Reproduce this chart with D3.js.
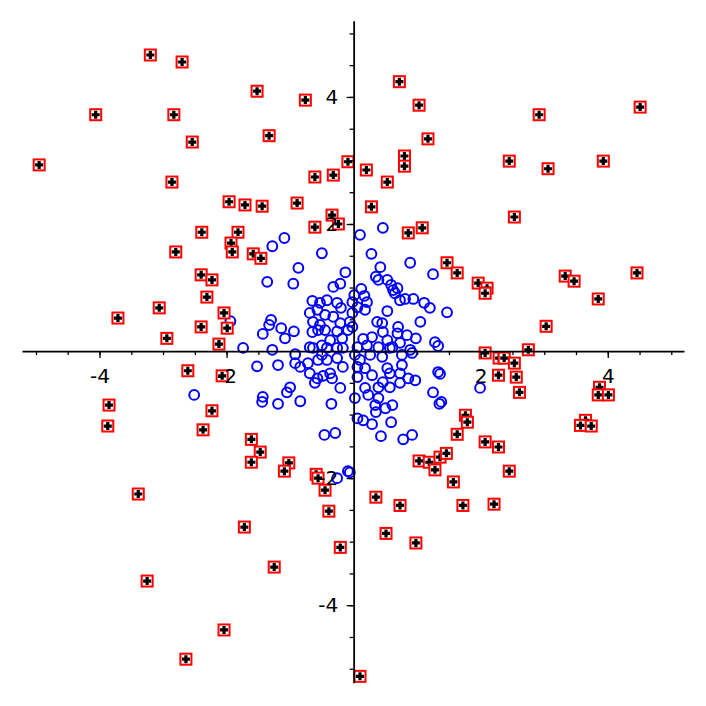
<!DOCTYPE html>
<html>
<head>
<meta charset="utf-8">
<script src="https://cdn.jsdelivr.net/npm/d3@7"></script>
<style>
  html, body { margin: 0; padding: 0; background: #ffffff; }
  svg { display: block; }
</style>
</head>
<body>
<svg id="chart" width="706" height="706"></svg>
<script>
// ---- data ----
const redX = [-3.20,-2.70,-4.06,-2.83,-1.52,-0.76,-1.33,-2.54,-4.95,-2.86,-0.61,-0.32,-0.09,0.72,1.03,1.17,0.80,0.80,0.20,0.53,
  2.92,4.51,2.45,3.06,3.93,-1.96,-1.71,-1.44,-0.89,0.28,-0.34,-0.24,-0.61,-1.82,-2.39,-1.93,-1.91,-1.58,-1.46,-2.80,
  0.86,1.08,2.53,1.47,1.63,1.96,2.10,2.07,3.33,3.47,4.46,3.85,3.03,-2.40,-2.23,-2.31,-3.06,-3.71,-2.04,-2.40,
  -1.99,-2.94,-2.12,-2.61,-2.07,-3.85,-3.87,-2.23,-2.37,-3.39,-3.25,-2.64,-2.04,-1.72,-1.25,-1.61,-1.47,-1.61,-1.02,-1.09,
  -0.59,-0.56,-0.45,-0.39,-0.21,0.10,0.35,0.73,0.51,0.98,1.03,1.19,1.36,1.46,1.28,1.57,1.63,1.76,1.79,2.07,
  2.28,2.45,2.21,1.72,2.07,2.29,2.37,2.53,2.75,2.28,2.56,2.61,3.87,3.85,4.01,3.65,3.57,3.74];
const redY = [4.66,4.55,3.72,3.72,4.09,3.95,3.39,3.29,2.93,2.66,2.74,2.77,2.98,4.24,3.87,3.34,3.07,2.91,2.85,2.66,
  3.72,3.84,2.99,2.87,2.99,2.35,2.30,2.28,2.33,2.27,2.14,2.00,1.95,1.87,1.87,1.70,1.56,1.53,1.46,1.56,
  1.86,1.94,2.11,1.39,1.23,1.07,0.99,0.91,1.18,1.10,1.23,0.82,0.39,1.20,1.12,0.85,0.68,0.52,0.60,0.38,
  0.36,0.20,0.11,-0.31,-0.39,-0.85,-1.18,-0.94,-1.24,-2.25,-3.62,-4.85,-4.39,-2.77,-3.40,-1.39,-1.59,-1.75,-1.76,-1.89,
  -1.94,-2.00,-2.19,-2.52,-3.09,-5.12,-2.30,-2.43,-2.87,-3.02,-1.73,-1.75,-1.67,-1.61,-1.87,-2.06,-1.31,-1.01,-1.12,-1.43,
  -1.51,-1.89,-2.41,-2.43,-0.03,-0.11,-0.11,-0.19,0.02,-0.38,-0.41,-0.65,-0.57,-0.69,-0.69,-1.09,-1.17,-1.18];

const blueX = [-1.09,-1.28,-0.50,-0.87,-0.13,-1.36,-0.95,0.10,-0.32,-0.21,-0.65,-0.53,-0.42,-0.26,-0.20,-0.02,0.01,-0.57,-0.45,-0.32,
  -0.69,-0.64,-0.56,-0.45,-0.21,-0.26,-0.09,-0.02,-1.94,-1.30,-1.33,-1.14,-0.94,-1.43,-1.08,-0.37,-0.18,-0.50,-0.69,-0.64,
  -0.42,-0.26,-0.17,-1.74,-1.28,0.46,0.28,0.89,0.42,1.25,0.35,0.39,0.53,0.59,0.62,0.69,0.65,0.73,0.81,0.94,
  1.11,1.20,1.47,0.12,0.17,0.21,0.06,0.18,0.53,-0.02,0.37,0.45,0.70,0.46,1.05,0.69,0.84,0.98,0.29,0.15,
  0.53,0.73,0.89,1.28,1.33,0.06,0.21,0.39,0.61,-1.52,-1.19,-0.92,-0.84,-0.72,-0.69,-0.57,-0.61,-0.48,-0.37,-0.34,
  -0.56,-0.42,-0.26,-0.17,-0.21,0.02,0.06,0.06,0.02,-1.00,-1.05,-1.43,-1.44,-1.19,-0.84,-0.35,-0.46,-0.29,-0.09,-0.26,
  0.06,-2.51,0.10,0.26,0.45,0.57,0.76,0.92,0.18,0.29,0.53,0.57,0.73,0.86,0.97,0.18,0.39,0.46,0.57,0.73,
  0.23,0.39,0.34,0.50,0.61,0.35,1.33,1.36,1.25,1.38,1.35,1.99,0.15,0.29,0.59,0.43,0.78,0.92,-0.06,0.76,
  -0.65,-0.53,-0.06,-0.92,-0.50];
const blueY = [1.78,1.65,1.54,1.31,1.24,1.09,1.06,1.83,1.01,1.06,0.79,0.76,0.80,0.76,0.68,0.77,0.88,0.65,0.57,0.54,
  0.60,0.46,0.33,0.33,0.44,0.31,0.33,0.38,0.47,0.49,0.41,0.36,0.31,0.27,0.20,0.17,0.20,0.09,0.06,0.05,
  0.05,0.05,0.05,0.05,0.02,1.94,1.53,1.39,1.32,1.21,1.17,1.12,1.12,1.04,0.96,0.99,0.91,0.80,0.82,0.82,
  0.76,0.68,0.61,0.98,0.87,0.77,0.69,0.65,0.63,0.60,0.46,0.44,0.38,0.30,0.46,0.28,0.25,0.20,0.22,0.19,
  0.17,0.13,0.02,0.14,0.08,0.06,0.09,0.06,0.06,-0.24,-0.22,-0.19,-0.25,-0.19,-0.35,-0.43,-0.50,-0.39,-0.35,-0.43,
  -0.14,-0.14,-0.11,-0.25,-0.58,-0.06,-0.25,-0.41,-0.74,-0.57,-0.65,-0.72,-0.80,-0.83,-0.79,-0.83,-1.32,-1.29,-1.89,-2.00,
  -1.06,-0.69,-0.14,-0.06,-0.09,0.05,-0.06,-0.03,-0.27,-0.38,-0.27,-0.35,-0.35,-0.43,-0.46,-0.58,-0.57,-0.49,-0.57,-0.50,
  -0.69,-0.74,-0.85,-0.90,-0.85,-0.96,-0.33,-0.36,-0.65,-0.80,-0.83,-0.58,-1.09,-1.15,-1.12,-1.34,-1.39,-1.32,-1.91,-0.22,
  0.30,0.41,0.46,-0.05,-0.06];

const xTickLabels = [-4, -2, 2, 4];
const yTickLabels = [-4, -2, 2, 4];

// ---- chart ----
const svg = d3.select("#chart");
const x = d3.scaleLinear().domain([-5.22, 5.20]).range([22, 684]);
const y = d3.scaleLinear().domain([-5.22, 5.20]).range([682.7, 20.7]);

const red = redX.map((v, i) => ({x: v, y: redY[i]}));
const blue = blueX.map((v, i) => ({x: v, y: blueY[i]}));

const pts = svg.append("g");

pts.selectAll("circle.b").data(blue).join("circle")
  .attr("class", "b")
  .attr("cx", d => x(d.x)).attr("cy", d => y(d.y))
  .attr("r", 4.9)
  .attr("fill", "none").attr("stroke", "#0000ff").attr("stroke-width", 2);

const rg = pts.selectAll("g.r").data(red).join("g")
  .attr("class", "r")
  .attr("transform", d => `translate(${x(d.x)},${y(d.y)})`);
rg.append("rect").attr("x", -5.5).attr("y", -5.5).attr("width", 11).attr("height", 11)
  .attr("fill", "#ffffff").attr("stroke", "#ff0000").attr("stroke-width", 2);
rg.append("path").attr("d", "M-4,0H4M0,-4V4")
  .attr("stroke", "#000000").attr("stroke-width", 3.2).attr("fill", "none");

const minorVals = d3.range(-10, 11).map(k => k * 0.5).filter(v => v >= -5.2 && v <= 5.2 && v !== 0);

// x axis
const gx = svg.append("g").attr("transform", `translate(0,${y(0)})`);
gx.call(d3.axisBottom(x).tickValues(minorVals).tickSize(4).tickSizeOuter(0).tickFormat(""));
gx.append("g").call(d3.axisBottom(x).tickValues(xTickLabels).tickSize(7).tickSizeOuter(0)
  .tickPadding(11).tickFormat(d => String(d)))
  .call(g => g.select(".domain").remove());

// y axis
const gy = svg.append("g").attr("transform", `translate(${x(0)},0)`);
gy.call(d3.axisLeft(y).tickValues(minorVals).tickSize(4).tickSizeOuter(0).tickFormat(""));
gy.append("g").call(d3.axisLeft(y).tickValues(yTickLabels).tickSize(7).tickSizeOuter(0)
  .tickPadding(8.5).tickFormat(d => String(d)))
  .call(g => g.select(".domain").remove());

svg.selectAll(".domain").attr("stroke", "#000").attr("stroke-width", 1.8);
svg.selectAll(".tick line").attr("stroke", "#000").attr("stroke-width", 1.3);
svg.selectAll(".tick text").attr("font-family", "DejaVu Sans, sans-serif")
  .attr("font-size", 20).attr("fill", "#000");
</script>
</body>
</html>
